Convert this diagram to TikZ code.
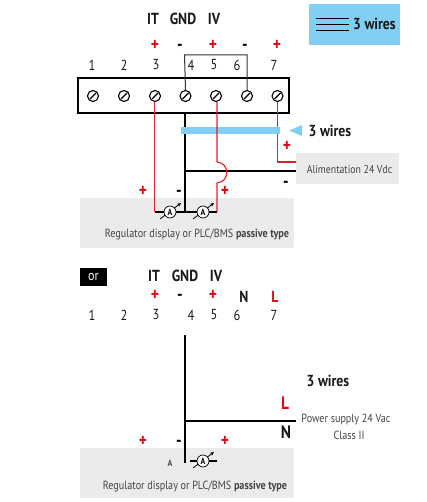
\documentclass[tikz,border=0pt]{standalone}
\usepackage{fontspec}
\setmainfont[FakeStretch=0.86]{PT Sans}
\usetikzlibrary{arrows.meta}
\definecolor{skyb}{HTML}{82CFF5}
\definecolor{palegray}{HTML}{EBEBEB}
\definecolor{wirered}{HTML}{E4202C}
\definecolor{plusred}{HTML}{E30613}
\definecolor{txtgray}{HTML}{444444}
\tikzset{
  lab/.style={inner sep=0pt,font=\fontsize{14.5}{16}\selectfont,text=black!90},
  head/.style={inner sep=0pt,font=\fontsize{16}{18}\selectfont\bfseries,text=black!90},
  sign/.style={inner sep=0pt,font=\fontsize{18}{18}\selectfont\bfseries},
  plus/.style={sign,text=plusred},
  minus/.style={sign,text=black,yshift=-3pt},
  small/.style={inner sep=0pt,font=\fontsize{11.8}{13}\selectfont,text=txtgray,align=center},
  screw/.style={circle,draw=black,line width=1.1pt,fill=white,minimum size=11pt,inner sep=0pt},
  meter/.style={circle,draw=black,line width=.7pt,fill=white,minimum size=12pt,inner sep=0pt,font=\fontsize{9}{9}\selectfont\bfseries},
  redw/.style={draw=wirered,line width=1.1pt},
  blackw/.style={draw=black,line width=1.1pt},
  panel/.style={fill=palegray,draw=none},
}
\newcommand{\mymeter}[3]{%
  \draw[black,line width=.8pt,-{Stealth[length=4pt,width=3.5pt]}] (#2-10,#3+7) -- (#2+11,#3-9);
  \node[meter] (#1) at (#2,#3) {A};
}
\newcommand{\myscrew}[3]{%
  \node[screw] (#1) at (#2,#3) {};
  \draw[black,line width=1.1pt] (#2-3,#3+3) -- (#2+3,#3-3);
}
\begin{document}
\begin{tikzpicture}[x=1pt,y=-1pt]
\useasboundingbox (0,0) rectangle (427,502);
% panels
\fill[skyb] (309,4) rectangle (400,45);
\fill[panel] (80,198) rectangle (294,248);
\fill[panel] (296,153) rectangle (399,184);
\fill[panel] (80,448) rectangle (294,498);
% legend
\foreach \yy in {18.5,24.5,30.5} \draw[black,line width=.9pt] (316,\yy) -- (349,\yy);
\node[head] (leg) at (374.5,24) {3 wires};
% top labels
\node[head] (it1) at (153,19) {IT};
\node[head] (gnd1) at (183,19) {GND};
\node[head] (iv1) at (214,19) {IV};
\node[plus] at (155,45) {+};
\node[minus] at (180,44.5) {-};
\node[plus] at (213,45) {+};
\node[minus] at (245,44.5) {-};
\node[plus] at (277,45) {+};
\node[lab] at (92,65) {1};
\node[lab] at (124,65) {2};
\node[lab] at (156,65) {3};
\node[lab] at (191,65) {4};
\node[lab] at (214,65) {5};
\node[lab] at (237,65) {6};
\node[lab] at (274,65) {7};
% terminal block
\node[draw=black,line width=1.1pt,fill=white,minimum width=211pt,minimum height=35pt,inner sep=0pt] (block) at (183.5,95.5) {};
\coordinate (brA) at (184.5,55);
\coordinate (brB) at (247,55);
% wires below the block
\coordinate (s3b) at (154.5,102);
\coordinate (c3) at (154.5,212);
\coordinate (s5b) at (217,102);
\coordinate (b5a) at (217,162);
\coordinate (b5b) at (217,183);
\coordinate (c5) at (217,212);
\coordinate (s7b) at (277.5,102);
\coordinate (c7) at (277.5,162);
\coordinate (p7) at (296,162);
\coordinate (gtop) at (185,113);
\coordinate (gbot) at (185,212);
\coordinate (gmid) at (185,171);
\coordinate (pn) at (296,171);
\draw[blackw] (gtop) -- (gbot);
\draw[blackw] (gmid) -- (pn);
\draw[blackw] (c3) -- (c5);
\draw[redw] (s3b) -- (c3);
\draw[redw] (s5b) -- (b5a) .. controls (230,163) and (230,182) .. (b5b) -- (c5);
\draw[redw] (s7b) -- (c7) -- (p7);
% blue bar
\fill[skyb] (181,127) rectangle (280,134);
\fill[skyb] (289,130.5) -- (302,125) -- (302,136) -- cycle;
\draw[draw=wirered!70!skyb,line width=1.1pt] (217,127) -- (217,134);
\node[head] (w1) at (330,130.5) {3 wires};
\node[plus] at (287,146) {+};
\node[small,font=\fontsize{11.4}{13}\selectfont] (ali) at (349.5,170) {Alimentation 24 Vdc};
\node[minus] at (286,181.5) {-};
% screws
\myscrew{s1}{93}{96}
\myscrew{s2}{124}{96}
\myscrew{s3}{155}{96}
\myscrew{s4}{185.5}{96}
\myscrew{s5}{216}{96}
\myscrew{s6}{247}{96}
\myscrew{s7}{277.5}{96}
\draw[draw=black!80,line width=1pt] (s4.north) -- (brA) -- (brB) -- (s6.north);
% meters
\node[plus] at (143,191) {+};
\node[minus] at (179,190.5) {-};
\node[plus] at (225,191) {+};
\mymeter{m1}{170}{212}
\mymeter{m2}{203}{212}
\node[small] (reg1) at (197,235) {Regulator display or PLC/BMS \textbf{passive type}};
% second diagram
\node[fill=black,text=white,inner sep=0pt,minimum width=27pt,minimum height=18pt,font=\fontsize{14}{16}\selectfont] (or) at (93.5,277) {or};
\node[head] (it2) at (154,276) {IT};
\node[head] (gnd2) at (185,276) {GND};
\node[head] (iv2) at (216,276) {IV};
\node[plus] at (155,295) {+};
\node[minus] at (180,294.5) {-};
\node[plus] at (213,295) {+};
\node[head] at (244,296.5) {N};
\node[head,text=plusred] at (275,296.5) {L};
\node[lab] at (92,315) {1};
\node[lab] at (124,315) {2};
\node[lab] at (156,315) {3};
\node[lab] at (191,315) {4};
\node[lab] at (214,315) {5};
\node[lab] at (237,315) {6};
\node[lab] at (274,315) {7};
\coordinate (g2top) at (185,335);
\coordinate (g2bot) at (185,463);
\coordinate (g2mid) at (185,421);
\coordinate (p2) at (296,421);
\draw[blackw] (g2top) -- (g2bot);
\draw[blackw] (g2mid) -- (p2);
\node[head] (w2) at (328,381) {3 wires};
\node[head,text=plusred,font=\fontsize{18}{18}\selectfont\bfseries] at (285,403) {L};
\node[head,font=\fontsize{18}{18}\selectfont\bfseries] at (286,432) {N};
\node[small] (pw) at (346,420) {Power supply 24 Vac};
\node[small] (cl) at (349,435) {Class II};
\node[plus] at (143,441) {+};
\node[minus] at (179,440.5) {-};
\node[plus] at (225,441) {+};
\coordinate (mL) at (190,461);
\coordinate (mR) at (217,461);
\draw[blackw] (mL) -- (mR);
\mymeter{m3}{203}{461}
\node[inner sep=0pt,font=\fontsize{9}{9}\selectfont\bfseries,text=txtgray] (a3) at (170,463) {A};
\node[small] (reg2) at (195,487) {Regulator display or PLC/BMS \textbf{passive type}};
\end{tikzpicture}
\end{document}
